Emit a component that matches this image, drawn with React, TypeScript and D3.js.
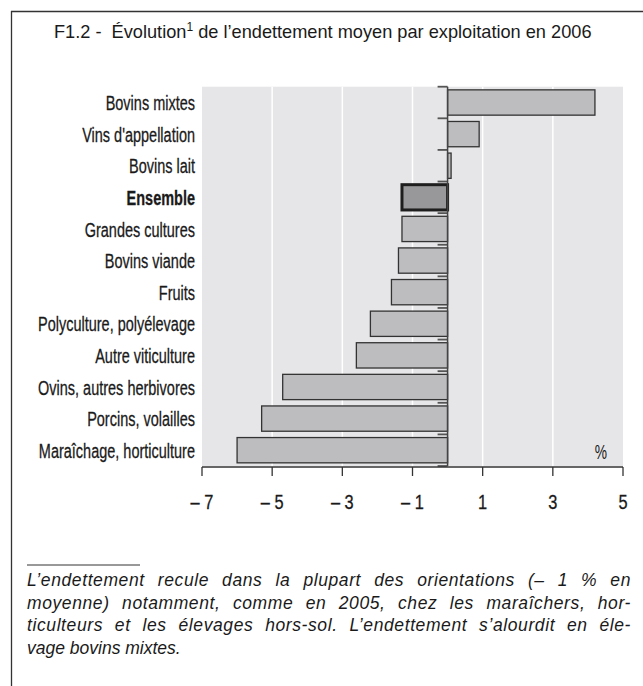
import React, { useEffect, useRef } from "react";
import * as d3 from "d3";

// orientations, de haut en bas
const categories = [
  "Bovins mixtes",
  "Vins d'appellation",
  "Bovins lait",
  "Ensemble",
  "Grandes cultures",
  "Bovins viande",
  "Fruits",
  "Polyculture, polyélevage",
  "Autre viticulture",
  "Ovins, autres herbivores",
  "Porcins, volailles",
  "Maraîchage, horticulture",
];
// évolution de l'endettement moyen en 2006 (%)
const values = [4.2, 0.9, 0.1, -1.3, -1.3, -1.4, -1.6, -2.2, -2.6, -4.7, -5.3, -6.0];
const tickValues = [-7, -5, -3, -1, 1, 3, 5];
const tickLabels = ["– 7", "– 5", "– 3", "– 1", "1", "3", "5"];
const highlight = "Ensemble";

const titleStart = "F1.2 -  Évolution";
const titleSup = "1";
const titleEnd = " de l’endettement moyen par exploitation en 2006";

const noteLines = [
  "L’endettement recule dans la plupart des orientations (– 1 % en",
  "moyenne) notamment, comme en 2005, chez les maraîchers, hor-",
  "ticulteurs et les élevages hors-sol. L’endettement s’alourdit en éle-",
  "vage bovins mixtes.",
];

const W = 643;
const H = 686;
const sans = "'Liberation Sans', Arial, sans-serif";
const squeeze = 0.69; // police étroite simulée

const App = () => {
  const svgRef = useRef<SVGSVGElement>(null);

  useEffect(() => {
    const svg = d3.select(svgRef.current);
    svg.selectAll("*").remove();

    const plot = { left: 202, right: 623, top: 86.7, bottom: 466 };

    const x = d3.scaleLinear().domain([-7, 5]).range([plot.left, plot.right]);
    const y = d3
      .scaleBand()
      .domain(categories)
      .range([plot.top, plot.bottom])
      .paddingInner(0.2)
      .paddingOuter(0.1);

    // cadre
    svg.append("line").attr("x1", 11.5).attr("x2", 11.5).attr("y1", 11).attr("y2", H)
      .attr("stroke", "#333").attr("stroke-width", 1.3);
    svg.append("line").attr("x1", 11).attr("x2", W).attr("y1", 11.5).attr("y2", 11.5)
      .attr("stroke", "#333").attr("stroke-width", 1.3);

    // titre
    const title = svg.append("text")
      .attr("x", 54).attr("y", 38)
      .attr("xml:space", "preserve")
      .style("white-space", "pre")
      .style("font-family", sans).style("font-size", "18.2px").attr("fill", "#1a1a1a");
    title.append("tspan").text(titleStart);
    title.append("tspan").attr("dy", -7).style("font-size", "12px").text(titleSup);
    title.append("tspan").attr("dy", 7).text(titleEnd);

    // fond du graphique
    svg.append("rect")
      .attr("x", plot.left).attr("y", plot.top)
      .attr("width", plot.right - plot.left).attr("height", plot.bottom - plot.top)
      .attr("fill", "#e6e6e8");

    // grille verticale
    svg.append("g").selectAll("line")
      .data(tickValues.filter((t) => t > -7 && t < 5))
      .enter().append("line")
      .attr("x1", (d) => x(d)).attr("x2", (d) => x(d))
      .attr("y1", plot.top).attr("y2", plot.bottom)
      .attr("stroke", "#fff").attr("stroke-width", 1.5);

    // barres
    svg.append("g").selectAll("rect")
      .data(categories)
      .enter().append("rect")
      .attr("x", (_, i) => x(Math.min(0, values[i])))
      .attr("y", (d) => y(d)!)
      .attr("width", (_, i) => Math.abs(x(values[i]) - x(0)))
      .attr("height", y.bandwidth())
      .attr("fill", (d) => (d === highlight ? "#98989a" : "#bdbdc0"))
      .attr("stroke", (d) => (d === highlight ? "#1e1e1e" : "#333"))
      .attr("stroke-width", (d) => (d === highlight ? 3 : 1.3));

    // axe du zéro et ses graduations
    const bounds = categories.map((c) => y(c)! - (y.step() * y.paddingInner()) / 2);
    bounds.push(plot.bottom);
    svg.append("g").selectAll("line")
      .data(bounds)
      .enter().append("line")
      .attr("x1", x(0) - 10).attr("x2", x(0))
      .attr("y1", (d) => d).attr("y2", (d) => d)
      .attr("stroke", "#555").attr("stroke-width", 1.8);
    svg.append("line")
      .attr("x1", x(0)).attr("x2", x(0))
      .attr("y1", plot.top).attr("y2", plot.bottom)
      .attr("stroke", "#444").attr("stroke-width", 1.5);

    // libellés des orientations
    svg.append("g").selectAll("text")
      .data(categories)
      .enter().append("text")
      .attr("transform", (d) => `translate(195,${y(d)! + y.bandwidth() / 2}) scale(${squeeze},1)`)
      .attr("dy", "0.36em")
      .attr("text-anchor", "end")
      .style("font-family", sans)
      .style("font-size", "21px")
      .style("font-weight", (d) => (d === highlight ? "bold" : "normal"))
      .attr("fill", "#1a1a1a")
      .attr("stroke", "#1a1a1a")
      .attr("stroke-width", 0.3)
      .text((d) => d);

    // axe horizontal
    const axis = svg.append("g").attr("transform", `translate(0,${plot.bottom + 1})`);
    axis.append("line").attr("x1", plot.left).attr("x2", plot.right)
      .attr("stroke", "#333").attr("stroke-width", 1.3);
    axis.selectAll("line.tick")
      .data(tickValues)
      .enter().append("line")
      .attr("class", "tick")
      .attr("x1", (d) => x(d)).attr("x2", (d) => x(d))
      .attr("y1", 0).attr("y2", 9)
      .attr("stroke", "#333").attr("stroke-width", 1.3);
    axis.selectAll("text")
      .data(tickValues)
      .enter().append("text")
      .attr("transform", (d) => `translate(${x(d)},42) scale(0.78,1)`)
      .attr("text-anchor", "middle")
      .style("font-family", sans)
      .style("font-size", "21px")
      .attr("fill", "#1a1a1a")
      .attr("stroke", "#1a1a1a")
      .attr("stroke-width", 0.3)
      .text((_, i) => tickLabels[i]);

    svg.append("text")
      .attr("transform", `translate(601,459) scale(${squeeze},1)`)
      .attr("text-anchor", "middle")
      .style("font-family", sans).style("font-size", "20px")
      .attr("fill", "#1a1a1a")
      .text("%");

    // note (justifiée sur les trois premières lignes)
    svg.append("line").attr("x1", 27).attr("x2", 140).attr("y1", 565).attr("y2", 565)
      .attr("stroke", "#333").attr("stroke-width", 1);
    const notes = svg.append("g").selectAll("text")
      .data(noteLines)
      .enter().append("text")
      .attr("x", 27)
      .attr("y", (_, i) => 586 + i * 22.5)
      .style("font-family", sans)
      .style("font-size", "17.5px")
      .style("font-style", "italic")
      .attr("fill", "#1a1a1a")
      .text((d) => d);
    notes.each(function (d, i) {
      if (i === noteLines.length - 1) return;
      const node = this as SVGTextElement;
      const extra = 604 - node.getComputedTextLength();
      const ls = Math.min((extra * 0.5) / d.length, 0.6);
      d3.select(node).style("letter-spacing", `${ls}px`);
      const rest = 604 - node.getComputedTextLength();
      const spaces = (d.match(/ /g) || []).length;
      d3.select(node).style("word-spacing", `${rest / spaces}px`);
    });
  }, []);

  return (
    <svg
      ref={svgRef}
      width={W}
      height={H}
      style={{ position: "absolute", left: 0, top: 0, background: "#fff" }}
    />
  );
};

export default App;
